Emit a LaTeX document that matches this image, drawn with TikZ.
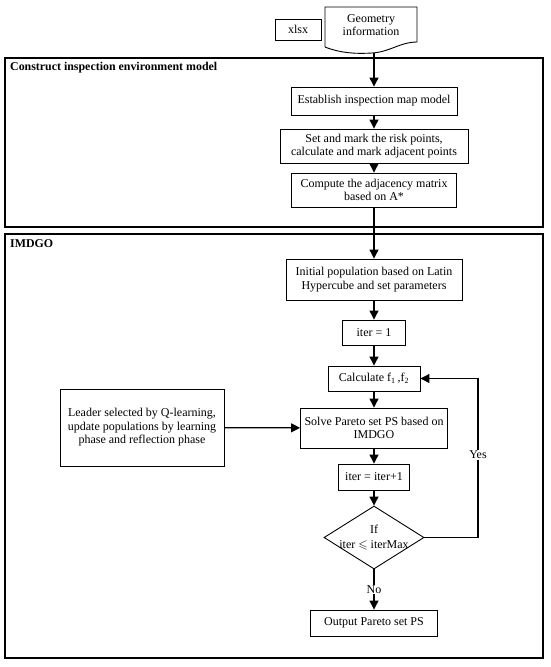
\documentclass[tikz,border=0pt]{standalone}
\usepackage{fontspec}
\setmainfont{Liberation Serif}
\usepackage{amssymb}
\usetikzlibrary{arrows.meta,shapes.geometric}
\begin{document}
\begin{tikzpicture}[x=1pt,y=-1pt,
  box/.style={draw,line width=0.9pt,align=center,inner sep=0pt,font=\fontsize{12}{13.5}\selectfont},
  txt/.style={align=center,inner sep=1pt,font=\fontsize{12}{13.5}\selectfont},
  frame/.style={draw,line width=1.2pt},
  ttl/.style={anchor=west,inner sep=0pt,font=\fontsize{11.9}{13}\selectfont\bfseries},
  arr/.style={line width=1.2pt,-{Triangle[width=9pt,length=9pt]}},
  ln/.style={line width=1.2pt}]
\useasboundingbox (0,0) rectangle (550,667);
% frames
\draw[frame] (5,58) rectangle (543,227);
\draw[frame] (5,234) rectangle (543,658);
\node[ttl] (t1) at (10,68) {Construct inspection environment model};
\node[ttl] (t2) at (10,244) {IMDGO};
% inputs
\node[box,minimum width=46pt,minimum height=21pt] (xl) at (298,29.5) {xlsx};
\draw[line width=0.9pt] (325,47) -- (325,7) -- (417,7) -- (417,42)
  .. controls (400,42) and (390,52) .. (372,53)
  .. controls (355,54) and (340,53) .. (325,47);
\node[txt] (geo) at (371,25) {Geometry\\information};
\coordinate (docb) at (374,53);
% first frame
\node[box,minimum width=166pt,minimum height=28pt] (est) at (374,101) {Establish inspection map model};
\node[box,minimum width=188pt,minimum height=34pt] (set) at (374,146) {Set and mark the risk points,\\calculate and mark adjacent points};
\node[box,minimum width=165pt,minimum height=34pt] (comp) at (374,190) {Compute the adjacency matrix\\based on A*};
% second frame
\node[box,minimum width=176pt,minimum height=41pt] (init) at (374,279.5) {Initial population based on Latin\\Hypercube and set parameters};
\node[box,minimum width=63pt,minimum height=25pt] (it1) at (374,332.5) {iter = 1};
\node[box,minimum width=92pt,minimum height=25pt] (calc) at (374,378.5) {Calculate f\textsubscript{1}\,,f\textsubscript{2}};
\node[box,minimum width=147pt,minimum height=40pt] (solve) at (374,428) {Solve Pareto set PS based on\\IMDGO};
\node[box,minimum width=164pt,minimum height=77pt] (lead) at (142,427.5) {Leader selected by Q-learning,\\update populations by learning\\phase and reflection phase};
\node[box,minimum width=71pt,minimum height=26pt] (itp) at (374,477) {iter = iter+1};
\node[draw,diamond,line width=0.9pt,minimum width=100pt,minimum height=63pt,inner sep=0pt] (dia) at (374,537.5) {};
\node[txt] (diat) at (374,537.5) {If\\[2pt]iter $\leqslant$ iterMax};
\node[box,minimum width=127pt,minimum height=26pt] (out) at (374,623) {Output Pareto set PS};
% connectors
\draw[arr] (docb) -- (est);
\draw[arr] (est) -- (set);
\draw[arr] (set) -- (comp);
\draw[arr] (comp) -- (init);
\draw[arr] (init) -- (it1);
\draw[arr] (it1) -- (calc);
\draw[arr] (calc) -- (solve);
\draw[arr] (lead) -- (solve);
\draw[arr] (solve) -- (itp);
\draw[arr] (itp) -- (dia);
\draw[arr] (dia) -- node[txt,fill=white] {No} (out);
\draw[arr] (dia.east) -- (478,537.5) -- node[txt,fill=white,pos=0.52] {Yes} (478,378.5) -- (calc.east);
\end{tikzpicture}
\end{document}
